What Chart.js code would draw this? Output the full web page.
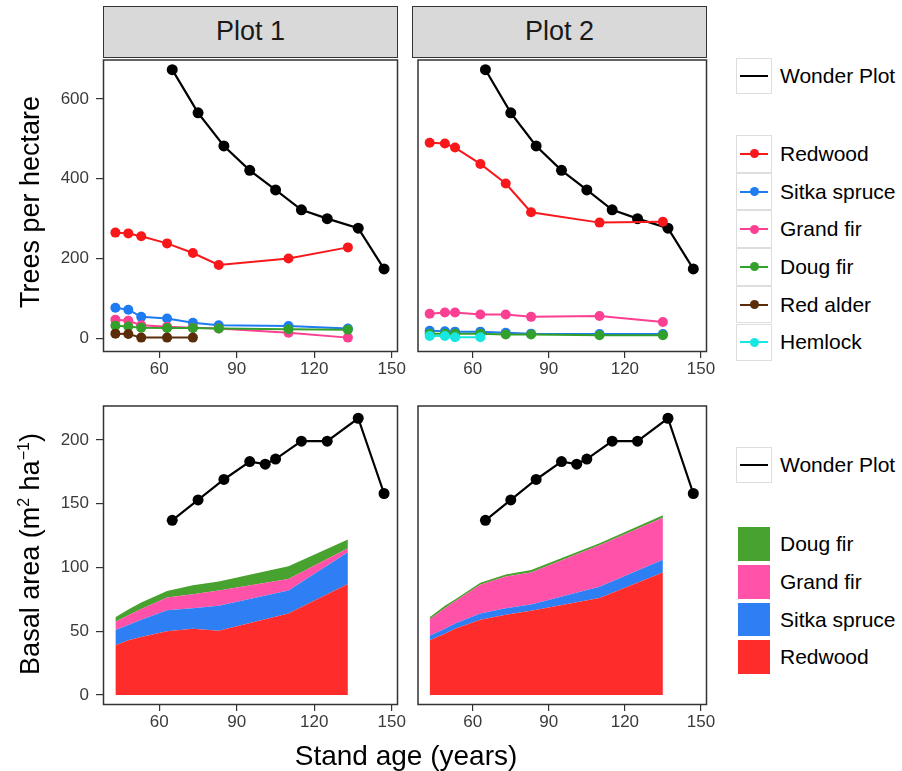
<!DOCTYPE html>
<html>
<head>
<meta charset="utf-8">
<script src="https://cdn.jsdelivr.net/npm/chart.js@4.4.1/dist/chart.umd.min.js"></script>
<style>
  body { margin: 0; background: #fff; font-family: 'Liberation Sans', Arial, sans-serif; }
  #wrap { position: relative; width: 902px; height: 771px; overflow: hidden; background: #fff; }
  canvas { position: absolute; }
  .strip { position: absolute; background: #d9d9d9; border: 1.5px solid #333; box-sizing: border-box;
           text-align: center; font-size: 27px; color: #1a1a1a; }
  .ytitle { position: absolute; font-size: 27px; color: #000; white-space: nowrap;
            transform: translate(-50%, -50%) rotate(-90deg); }
  .xtitle { position: absolute; font-size: 28px; color: #000; white-space: nowrap; transform: translate(-50%, -50%); }
  .key { position: absolute; width: 36px; box-sizing: border-box; border: 1.5px solid #dedede; background: #fff; }
  .keyline { position: absolute; left: 3px; right: 3px; height: 2px; top: 50%; margin-top: -1px; }
  .keydot { position: absolute; width: 9px; height: 9px; border-radius: 50%; left: 50%; top: 50%; margin: -4.5px 0 0 -4.5px; }
  .keyfill { position: absolute; left: 1px; right: 1px; top: 1px; bottom: 1px; }
  .lab { position: absolute; font-size: 21px; color: #000; white-space: nowrap; transform: translateY(-50%); }
</style>
</head>
<body>
<div id="wrap">
  <canvas id="c1"></canvas>
  <canvas id="c2"></canvas>
  <canvas id="c3"></canvas>
  <canvas id="c4"></canvas>
</div>
<script>
// tick labels
const xTickVals = [60, 90, 120, 150];
const treeTicks = [0, 200, 400, 600];
const basalTicks = [0, 50, 100, 150, 200];
const plotNames = ['Plot 1', 'Plot 2'];

// Wonder Plot (same in both facets)
const wonderYears = [65, 75, 85, 95, 105, 115, 125, 137, 147];
const wonderTrees = [673, 565, 482, 421, 372, 322, 300, 276, 174];
const wonderBasalYears = [65, 75, 85, 95, 101, 105, 115, 125, 137, 147];
const wonderBasal = [137, 153, 169, 183, 181, 185, 199, 199, 217, 158];

// measurement years
const plot1Years = [43, 48, 53, 63, 73, 83, 110, 133];
const plot2Years = [43, 49, 53, 63, 73, 83, 110, 135];

// trees per hectare, plot 1
const p1Redwood = [265, 263, 256, 238, 214, 184, 200, 228];
const p1Sitka = [77, 72, 54, 50, 39, 33, 31, 25];
const p1Grand = [47, 44, 33, 29, 27, 25, 14, 2];
const p1Doug = [32, 30, 27, 26, 26, 25, 23, 22];
const p1Alder = [12, 11, 2, 2, 2];
const p1Hemlock = [];

// trees per hectare, plot 2
const p2Redwood = [490, 488, 478, 437, 388, 316, 290, 292];
const p2Sitka = [19, 18, 17, 17, 14, 12, 11, 11];
const p2Grand = [62, 65, 65, 60, 60, 54, 56, 41];
const p2Doug = [12, 12, 12, 12, 10, 10, 8, 8];
const p2Alder = [];
const p2Hemlock = [6, 6, 3, 3];

// basal area (stacked), plot 1
const p1BasalRedwood = [39, 43, 45.5, 50, 52, 50.5, 64, 87];
const p1BasalSitka = [12, 12, 13.5, 16.5, 16, 19.5, 18, 25];
const p1BasalGrand = [6.5, 7.5, 8.5, 10, 11, 12, 9, 3];
const p1BasalDoug = [3.5, 4.5, 5, 5, 7, 7, 10, 7];

// basal area (stacked), plot 2
const p2BasalRedwood = [43, 48, 52, 59, 63, 66, 76, 96];
const p2BasalSitka = [3.5, 4, 4, 5, 5, 5, 9, 10];
const p2BasalGrand = [13, 16, 17.5, 22.5, 25, 25, 32.5, 33];
const p2BasalDoug = [1.5, 2, 1.5, 1.5, 1.5, 2, 1.5, 2];

const speciesNames = ['Redwood', 'Sitka spruce', 'Grand fir', 'Doug fir', 'Red alder', 'Hemlock'];
const speciesColors = ['#f8181c', '#1f7bf2', '#fb3f92', '#33a02c', '#5a2c0a', '#18e6e0'];
const areaNames = ['Redwood', 'Sitka spruce', 'Grand fir', 'Doug fir'];
const areaColors = ['#ff2c2c', '#2e7ff4', '#ff52a8', '#47a22f'];

const toPts = (xs, ys) => ys.map((y, i) => ({x: xs[i], y: y}));

const xMin = 38.2, xMax = 152.4;
const panels = {
  tl: {x: 103, y: 57, w: 295, h: 295},
  tr: {x: 412, y: 57, w: 295, h: 295},
  bl: {x: 103, y: 403, w: 295, h: 302},
  br: {x: 412, y: 403, w: 295, h: 302}
};

// black frame round each panel
const panelBorder = {
  id: 'panelBorder',
  afterDraw(chart) {
    const a = chart.chartArea, c = chart.ctx;
    c.save();
    c.strokeStyle = '#333';
    c.lineWidth = 1.5;
    c.strokeRect(a.left + 0.5, a.top + 0.5, a.width - 1, a.height - 1);
    c.restore();
  }
};

function panelChart(id, panel, datasets, yMin, yMax, yTicks, showY, stacked) {
  const yW = showY ? 70 : 0;
  const xH = 40;
  const pad = 3, padR = 16;
  const cv = document.getElementById(id);
  cv.width = yW + panel.w + padR;
  cv.height = pad + panel.h + xH;
  cv.style.left = (panel.x - yW) + 'px';
  cv.style.top = (panel.y - pad) + 'px';
  return new Chart(cv, {
    type: 'line',
    data: {datasets: datasets},
    options: {
      responsive: false,
      animation: false,
      events: [],
      layout: {padding: {top: pad, right: padR, left: 0, bottom: 0}},
      plugins: {legend: {display: false}, tooltip: {enabled: false}},
      scales: {
        x: {
          type: 'linear', min: xMin, max: xMax,
          afterBuildTicks: s => { s.ticks = xTickVals.map(v => ({value: v})); },
          afterFit: s => { s.height = xH; s.paddingLeft = 0; s.paddingRight = 0; },
          grid: {drawOnChartArea: false, color: '#333', tickLength: 6, lineWidth: 1.2},
          border: {display: false},
          ticks: {color: '#3a3a3a', font: {family: 'Liberation Sans', size: 17}, padding: 1, maxRotation: 0}
        },
        y: {
          type: 'linear', min: yMin, max: yMax, display: showY, stacked: stacked,
          afterBuildTicks: s => { s.ticks = yTicks.map(v => ({value: v})); },
          afterFit: s => { s.width = yW; s.paddingTop = 0; s.paddingBottom = 0; },
          grid: {drawOnChartArea: false, color: '#333', tickLength: 7, lineWidth: 1.2},
          border: {display: false},
          ticks: {color: '#3a3a3a', font: {family: 'Liberation Sans', size: 17}, padding: 7}
        }
      }
    },
    plugins: [panelBorder]
  });
}

function treeSets(years, series) {
  const sets = series.map((vals, i) => ({
    data: toPts(years, vals),
    borderColor: speciesColors[i], backgroundColor: speciesColors[i],
    borderWidth: 2, pointRadius: 5, pointBorderWidth: 0, fill: false, tension: 0,
    order: 6 - i
  }));
  sets.push({
    data: toPts(wonderYears, wonderTrees),
    borderColor: '#000', backgroundColor: '#000',
    borderWidth: 2.2, pointRadius: 5.5, pointBorderWidth: 0, fill: false, order: 10
  });
  return sets;
}

function basalSets(years, series) {
  const sets = series.map((vals, i) => ({
    data: toPts(years, vals),
    borderColor: areaColors[i], backgroundColor: areaColors[i],
    borderWidth: 0, pointRadius: 0, fill: i === 0 ? 'origin' : '-1', tension: 0,
    stack: 'species'
  }));
  sets.push({
    data: toPts(wonderBasalYears, wonderBasal),
    borderColor: '#000', backgroundColor: '#000',
    borderWidth: 2.2, pointRadius: 5.5, pointBorderWidth: 0, fill: false, stack: 'wonder'
  });
  return sets;
}

panelChart('c1', panels.tl, treeSets(plot1Years, [p1Redwood, p1Sitka, p1Grand, p1Doug, p1Alder, p1Hemlock]), -34, 698.5, treeTicks, true, false);
panelChart('c2', panels.tr, treeSets(plot2Years, [p2Redwood, p2Sitka, p2Grand, p2Doug, p2Alder, p2Hemlock]), -34, 698.5, treeTicks, false, false);
panelChart('c3', panels.bl, basalSets(plot1Years, [p1BasalRedwood, p1BasalSitka, p1BasalGrand, p1BasalDoug]), -7.8, 227, basalTicks, true, true);
panelChart('c4', panels.br, basalSets(plot2Years, [p2BasalRedwood, p2BasalSitka, p2BasalGrand, p2BasalDoug]), -7.8, 227, basalTicks, false, true);

// strips, titles, legends
const wrap = document.getElementById('wrap');
function add(cls, html, css) {
  const d = document.createElement('div');
  d.className = cls;
  d.innerHTML = html;
  Object.assign(d.style, css);
  wrap.appendChild(d);
  return d;
}

[panels.tl, panels.tr].forEach((p, i) => {
  add('strip', plotNames[i], {left: p.x + 'px', top: '6px', width: p.w + 'px', height: '52px', lineHeight: '49px'});
});

add('ytitle', 'Trees per hectare', {left: '30px', top: '202px'});
add('ytitle', 'Basal area (m<sup style="font-size:16px">2</sup> ha<sup style="font-size:16px">\u22121</sup>)', {left: '30px', top: '554px'});
add('xtitle', 'Stand age (years)', {left: '406px', top: '756px'});

function lineKey(top, h, color, dot, label) {
  const k = add('key', '', {left: '736px', top: top + 'px', height: h + 'px'});
  const l = document.createElement('div');
  l.className = 'keyline';
  l.style.background = color;
  k.appendChild(l);
  if (dot) {
    const d = document.createElement('div');
    d.className = 'keydot';
    d.style.background = color;
    k.appendChild(d);
  }
  add('lab', label, {left: '780px', top: (top + h / 2) + 'px'});
}

function fillKey(top, h, color, label) {
  const k = add('key', '', {left: '736px', top: top + 'px', height: h + 'px', borderColor: '#fff'});
  const f = document.createElement('div');
  f.className = 'keyfill';
  f.style.background = color;
  k.appendChild(f);
  add('lab', label, {left: '780px', top: (top + h / 2) + 'px'});
}

lineKey(58, 36, '#000', false, 'Wonder Plot');
speciesNames.forEach((n, i) => lineKey(135 + i * 37.7, 37.7, speciesColors[i], true, n));

lineKey(447, 36, '#000', false, 'Wonder Plot');
[3, 2, 1, 0].forEach((j, i) => fillKey(525 + i * 37.8, 37.8, areaColors[j], areaNames[j]));
</script>
</body>
</html>
